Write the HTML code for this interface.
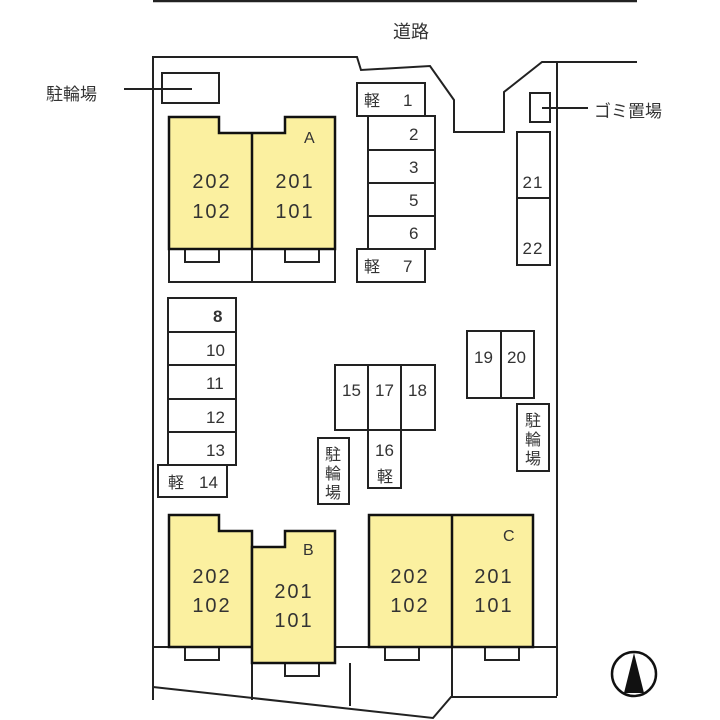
<!DOCTYPE html>
<html><head><meta charset="utf-8"><style>
html,body{margin:0;padding:0;background:#fff;}
svg{display:block;}
text{font-family:"Liberation Sans","Noto Sans CJK JP",sans-serif;fill:#333;}
.b{fill:#fbf0a0;stroke:#111;stroke-width:2.5;}
.r{fill:#fff;stroke:#222;stroke-width:2;}
.l{fill:none;stroke:#222;stroke-width:2;}
.n{font-size:17px;}
.u{font-size:20px;letter-spacing:2px;text-anchor:middle;}
.k{font-size:16px;}
</style></head><body>
<svg width="720" height="720" viewBox="0 0 720 720">
<line x1="153" y1="1" x2="637" y2="1" stroke="#222" stroke-width="2.5"/>
<text x="411" y="38" font-size="18" text-anchor="middle">道路</text>
<!-- site outline -->
<polyline class="l" points="153,700 153,57 357,57 361,70 430,66 454,100 454,132 504,132 504,92 542,62 637,62"/>
<line class="l" x1="557" y1="62" x2="557" y2="696"/>
<polyline class="l" points="153,687 433,718 451,697 557,697"/>
<line class="l" x1="153" y1="647" x2="557" y2="647"/>
<line class="l" x1="252" y1="647" x2="252" y2="700"/>
<line class="l" x1="350" y1="663" x2="350" y2="706"/>
<line class="l" x1="452" y1="647" x2="452" y2="697"/>
<!-- bike top-left -->
<rect class="r" x="162" y="73" width="57" height="30"/>
<line class="l" x1="124" y1="89" x2="192" y2="89"/>
<text x="46" y="100" font-size="17">駐輪場</text>
<!-- building A -->
<rect class="r" x="169" y="249" width="83" height="33"/><rect class="r" x="252" y="249" width="83" height="33"/>
<rect class="r" x="185" y="249" width="34" height="13"/><rect class="r" x="285" y="249" width="34" height="13"/>
<polygon class="b" points="169,117 219,117 219,133 285,133 285,117 335,117 335,249 169,249"/>
<line x1="252" y1="133" x2="252" y2="249" stroke="#111" stroke-width="2.5"/>
<text x="304" y="143" font-size="16">A</text>
<text class="u" x="212" y="188">202</text><text class="u" x="212" y="218">102</text>
<text class="u" x="295" y="188">201</text><text class="u" x="295" y="218">101</text>
<!-- parking 1-7 -->
<rect class="r" x="357" y="83" width="68" height="33"/><text class="k" x="364" y="106">軽</text><text class="n" x="403" y="106">1</text>
<rect class="r" x="368" y="116" width="67" height="34"/><text class="n" x="409" y="140">2</text>
<rect class="r" x="368" y="150" width="67" height="33"/><text class="n" x="409" y="173">3</text>
<rect class="r" x="368" y="183" width="67" height="33"/><text class="n" x="409" y="206">5</text>
<rect class="r" x="368" y="216" width="67" height="33"/><text class="n" x="409" y="239">6</text>
<rect class="r" x="357" y="249" width="68" height="33"/><text class="k" x="364" y="272">軽</text><text class="n" x="403" y="272">7</text>
<!-- gomi -->
<rect class="r" x="530" y="93" width="20" height="29"/>
<line class="l" x1="542" y1="108" x2="588" y2="108"/>
<text x="594" y="117" font-size="17">ゴミ置場</text>
<!-- 21 22 -->
<rect class="r" x="517" y="132" width="33" height="66"/><text class="n" x="533" y="188" text-anchor="middle" letter-spacing="1">21</text>
<rect class="r" x="517" y="198" width="33" height="67"/><text class="n" x="533" y="254" text-anchor="middle" letter-spacing="1">22</text>
<!-- 8-14 -->
<rect class="r" x="168" y="298" width="68" height="34"/><text class="n" x="213" y="322" font-weight="bold">8</text>
<rect class="r" x="168" y="332" width="68" height="33"/><text class="n" x="206" y="356">10</text>
<rect class="r" x="168" y="365" width="68" height="34"/><text class="n" x="206" y="389">11</text>
<rect class="r" x="168" y="399" width="68" height="33"/><text class="n" x="206" y="423">12</text>
<rect class="r" x="168" y="432" width="68" height="33"/><text class="n" x="206" y="456">13</text>
<rect class="r" x="158" y="465" width="69" height="32"/><text class="k" x="168" y="488">軽</text><text class="n" x="199" y="488">14</text>
<!-- 15-18 -->
<rect class="r" x="335" y="365" width="100" height="65"/>
<line class="l" x1="368" y1="365" x2="368" y2="430"/><line class="l" x1="401" y1="365" x2="401" y2="430"/>
<text class="n" x="342" y="396">15</text><text class="n" x="375" y="396">17</text><text class="n" x="408" y="396">18</text>
<rect class="r" x="368" y="430" width="33" height="58"/><text class="n" x="375" y="456">16</text><text class="k" x="377" y="482">軽</text>
<rect class="r" x="318" y="438" width="31" height="66"/>
<text x="325" y="460" font-size="16">駐</text><text x="325" y="479" font-size="16">輪</text><text x="325" y="498" font-size="16">場</text>
<!-- 19 20 -->
<rect class="r" x="467" y="331" width="67" height="67"/><line class="l" x1="501" y1="331" x2="501" y2="398"/>
<text class="n" x="474" y="363">19</text><text class="n" x="507" y="363">20</text>
<rect class="r" x="517" y="404" width="32" height="67"/>
<text x="525" y="426" font-size="16">駐</text><text x="525" y="445" font-size="16">輪</text><text x="525" y="464" font-size="16">場</text>
<!-- building B -->
<rect class="r" x="185" y="647" width="34" height="13"/>
<polygon class="b" points="169,515 219,515 219,531 252,531 252,647 169,647"/>
<rect class="r" x="285" y="663" width="34" height="13"/>
<polygon class="b" points="252,547 285,547 285,531 335,531 335,663 252,663"/>
<text x="303" y="555" font-size="16">B</text>
<text class="u" x="212" y="583">202</text><text class="u" x="212" y="612">102</text>
<text class="u" x="294" y="598">201</text><text class="u" x="294" y="627">101</text>
<!-- building C -->
<rect class="r" x="385" y="647" width="34" height="13"/><rect class="r" x="485" y="647" width="34" height="13"/>
<rect class="b" x="369" y="515" width="164" height="132"/>
<line x1="452" y1="515" x2="452" y2="647" stroke="#111" stroke-width="2.5"/>
<text x="503" y="541" font-size="16">C</text>
<text class="u" x="410" y="583">202</text><text class="u" x="410" y="612">102</text>
<text class="u" x="494" y="583">201</text><text class="u" x="494" y="612">101</text>
<!-- compass -->
<circle cx="634" cy="674" r="22" fill="none" stroke="#111" stroke-width="2.5"/>
<polygon points="634,653 624,693 644,693" fill="#111"/>
</svg>
</body></html>
